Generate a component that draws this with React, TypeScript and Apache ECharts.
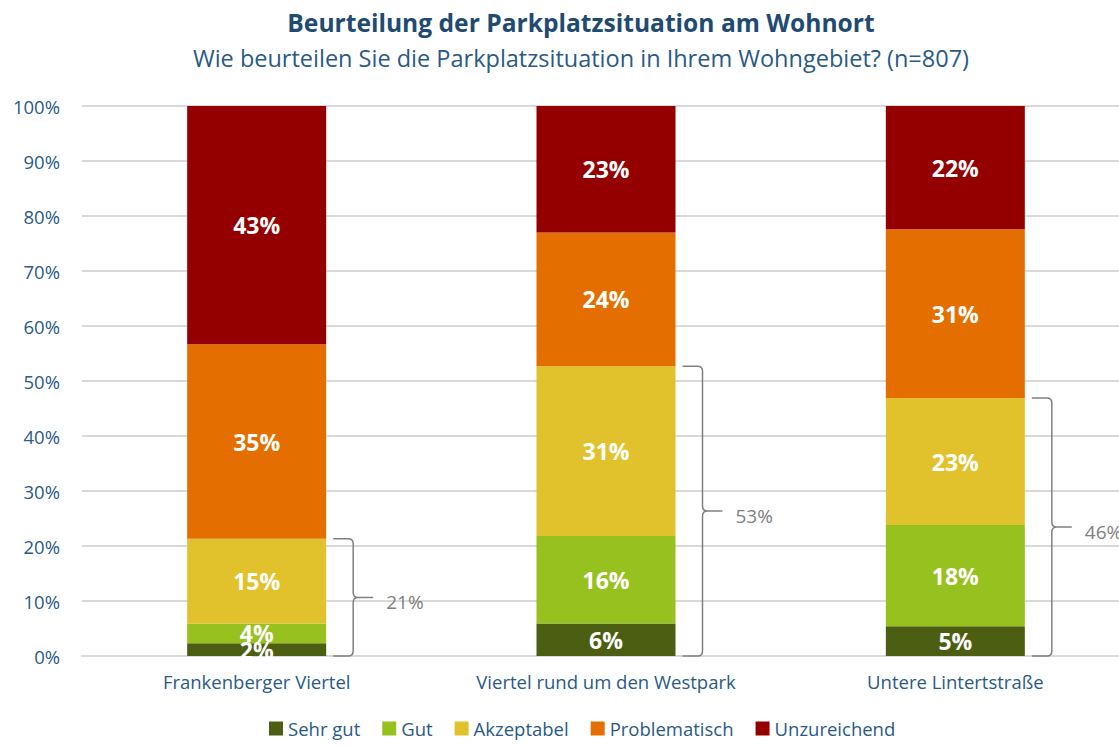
import React, { useEffect, useRef } from "react";
import * as echarts from "echarts";

const categories = ["Frankenberger Viertel", "Viertel rund um den Westpark", "Untere Lintertstraße"];
const seriesNames = ["Sehr gut", "Gut", "Akzeptabel", "Problematisch", "Unzureichend"];
const sehrGut = [2.3, 5.9, 5.4];
const gut = [3.6, 15.9, 18.4];
const akzeptabel = [15.4, 30.9, 23.1];
const problematisch = [35.4, 24.3, 30.7];
const unzureichend = [43.3, 23.0, 22.4];
const colors = ["#4b5e12", "#97c11f", "#e2c22c", "#e46f00", "#940000"];
const yTicks = [0, 10, 20, 30, 40, 50, 60, 70, 80, 90, 100];

const FONT = "'Open Sans', Lato, sans-serif";
const BAR_W = 139;

export default function App() {
  const ref = useRef<HTMLDivElement>(null);
  useEffect(() => {
    const chart = echarts.init(ref.current!, undefined, { renderer: "svg" });
    const values = [sehrGut, gut, akzeptabel, problematisch, unzureichend];
    const bracketData = categories.map((_, i) => [
      i,
      sehrGut[i] + gut[i] + akzeptabel[i],
      Math.round(sehrGut[i]) + Math.round(gut[i]) + Math.round(akzeptabel[i]),
    ]);
    const barSeries = seriesNames.map((name, k) => ({
      name,
      type: "bar",
      stack: "total",
      barWidth: BAR_W,
      itemStyle: { color: colors[k] },
      label: {
        show: true,
        position: "inside",
        color: "#ffffff",
        fontFamily: FONT,
        fontWeight: "bold",
        fontSize: 23,
        formatter: (p: any) => Math.round(p.value) + "%",
      },
      data: values[k],
    }));
    const option: any = {
      animation: false,
      textStyle: { fontFamily: FONT },
      title: [
        {
          text: "Beurteilung der Parkplatzsituation am Wohnort",
          left: 576,
          top: 5,
          textAlign: "center",
          textStyle: { fontFamily: FONT, fontSize: 24.6, fontWeight: "bold", color: "#1f4b73" },
        },
        {
          text: "Wie beurteilen Sie die Parkplatzsituation in Ihrem Wohngebiet? (n=807)",
          left: 576,
          top: 41,
          textAlign: "center",
          textStyle: { fontFamily: FONT, fontSize: 23.5, fontWeight: "normal", color: "#2a5a86" },
        },
      ],
      legend: {
        data: seriesNames,
        bottom: 4,
        left: 264,
        icon: "rect",
        itemWidth: 14,
        itemHeight: 14,
        itemGap: 22,
        textStyle: { fontFamily: FONT, fontSize: 18.5, color: "#2a5a86" },
      },
      grid: { left: 82, right: 0, top: 106, bottom: 91 },
      xAxis: {
        type: "category",
        data: categories,
        axisTick: { show: false },
        axisLine: { show: true, lineStyle: { color: "#d9d9d9", width: 2 } },
        axisLabel: { fontFamily: FONT, fontSize: 18.5, color: "#2a5a86", margin: 16 },
      },
      yAxis: {
        type: "value",
        min: yTicks[0],
        max: yTicks[yTicks.length - 1],
        interval: 10,
        axisLine: { show: false },
        axisTick: { show: false },
        splitLine: { lineStyle: { color: "#d9d9d9", width: 2 } },
        axisLabel: { fontFamily: FONT, fontSize: 18.5, color: "#2a5a86", formatter: "{value}%", margin: 22 },
      },
      series: [
        ...barSeries,
        {
          type: "custom",
          name: "bracket",
          silent: true,
          z: 5,
          encode: { x: 0, y: 1 },
          data: bracketData,
          renderItem: (params: any, api: any) => {
            const idx = api.value(0);
            const top = api.coord([idx, api.value(1)]);
            const bot = api.coord([idx, 0]);
            const x0 = top[0] + BAR_W / 2 + 7;
            const xv = top[0] + BAR_W / 2 + 27;
            const xt = top[0] + BAR_W / 2 + 47;
            const yT = top[1];
            const yB = bot[1];
            const yM = (yT + yB) / 2;
            const r = 5;
            const d =
              `M${x0},${yT} L${xv - r},${yT} Q${xv},${yT} ${xv},${yT + r} ` +
              `L${xv},${yM - r} Q${xv},${yM} ${xv + r},${yM} L${xt},${yM} ` +
              `M${xv + r},${yM} Q${xv},${yM} ${xv},${yM + r} ` +
              `L${xv},${yB - r} Q${xv},${yB} ${xv - r},${yB} L${x0},${yB}`;
            return {
              type: "group",
              children: [
                {
                  type: "path",
                  shape: { pathData: d },
                  style: { fill: "none", stroke: "#808080", lineWidth: 1.5 },
                },
                {
                  type: "text",
                  x: xt + 13,
                  y: yM + 5,
                  style: {
                    text: api.value(2) + "%",
                    fill: "#808080",
                    font: `19px ${FONT}`,
                    verticalAlign: "middle",
                    align: "left",
                  },
                },
              ],
            };
          },
        },
      ],
    };
    chart.setOption(option);
    return () => chart.dispose();
  }, []);
  return (
    <div style={{ position: "fixed", left: 0, top: 0, width: 1119, height: 747, overflow: "hidden", background: "#ffffff" }}>
      <div ref={ref} style={{ position: "absolute", left: 0, top: 0, width: 1130, height: 747 }} />
    </div>
  );
}
